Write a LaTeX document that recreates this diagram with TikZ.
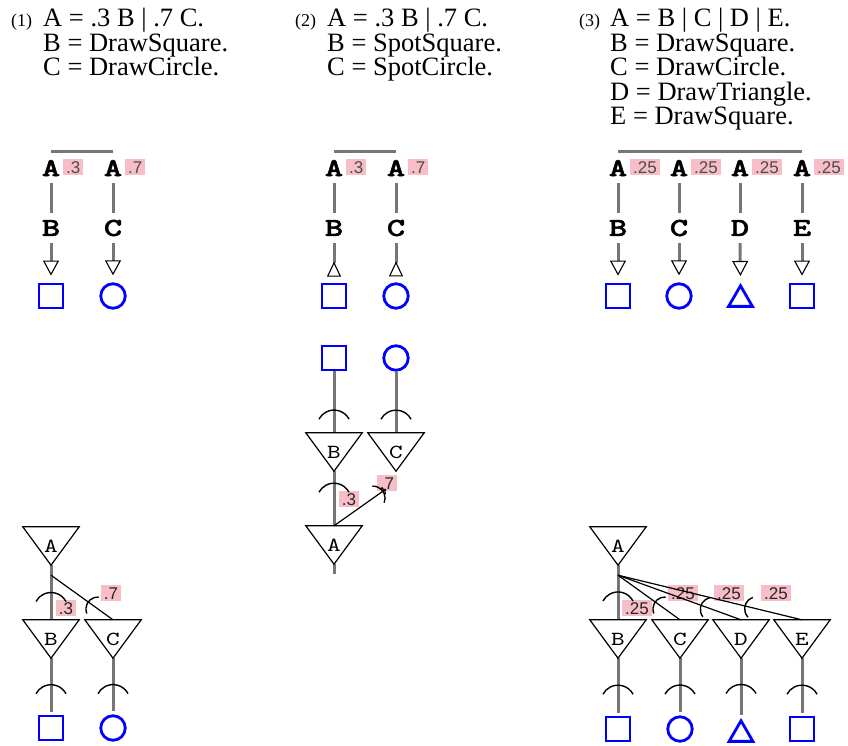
\documentclass[tikz,border=0pt]{standalone}
\usepackage{fontspec}
\setmainfont{Liberation Serif}
\newfontfamily\lsans{Liberation Sans}
\newfontfamily\courb{lmmonolt10-bold.otf}[FakeBold=1.6, FakeStretch=1.35]
\newfontfamily\cour{lmmono10-regular.otf}[FakeStretch=1.3]
\usetikzlibrary{arrows.meta,shapes.geometric,calc}
\definecolor{pinkc}{RGB}{247,190,200}
\definecolor{grayc}{RGB}{118,118,118}
\newcommand\sockarc[5]{% arc bulging toward #1 on segment #1--#2 at fraction #3, radius #4, half span #5
  \draw[sockline] let \p1=($(#1)-(#2)$), \n1={atan2(\y1,\x1)} in
    ($(#1)!#3!(#2)$) ++(\n1+180:#4) ++(\n1-#5:#4) arc[start angle=\n1-#5, end angle=\n1+#5, radius=#4];}
\tikzset{
  hdr/.style={anchor=base west, inner sep=0pt, font=\fontsize{26.5}{28}\selectfont},
  hnum/.style={anchor=base west, inner sep=0pt, font=\fontsize{18}{20}\selectfont},
  letter/.style={inner sep=0pt, minimum height=30pt, font=\courb\fontsize{26}{26}\selectfont},
  prob/.style={fill=pinkc, inner xsep=3pt, inner ysep=2pt, text=black!70, font=\lsans\fontsize{17}{17}\selectfont, anchor=west, text height=12.2pt, text depth=0pt},
  lprob/.style={prob, anchor=center, text=black!85},
  gl/.style={draw=grayc, line width=3pt},
  blk/.style={draw=black, line width=1.2pt},
  sockline/.style={draw=black, line width=1.4pt},
  sq/.style={rectangle, draw=blue, line width=2.8pt, minimum size=24pt, inner sep=0pt},
  ci/.style={circle, draw=blue, line width=2.8pt, minimum size=24.5pt, inner sep=0pt},
  tr/.style={regular polygon, regular polygon sides=3, draw=blue, line width=2.8pt, minimum size=27.5pt, inner sep=0pt},
  tri/.style={minimum width=56pt, minimum height=38pt, inner sep=0pt, font=\cour\fontsize{20}{20}\selectfont},
  opentip/.style={-{Triangle[open, color=black, line width=1.1pt, length=15pt, width=16pt]}, shorten >=7pt},
  rtip/.style={-{Triangle[open, reversed, color=black, line width=1.1pt, length=15pt, width=14pt]}, shorten >=6pt},
}
\begin{document}
\begin{tikzpicture}[x=1pt, y=-1pt]
\useasboundingbox (0,0) rectangle (848,746);
% ---------- headers
\node[hnum] (n1) at (11,27) {(1)};
\node[hdr] (h1a) at (43,27) {A = .3 B | .7 C.};
\node[hdr] (h1b) at (43,51.4) {B = DrawSquare.};
\node[hdr] (h1c) at (43,75.8) {C = DrawCircle.};
\node[hnum] (n2) at (295,27) {(2)};
\node[hdr] (h2a) at (327,27) {A = .3 B | .7 C.};
\node[hdr] (h2b) at (327,51.4) {B = SpotSquare.};
\node[hdr] (h2c) at (327,75.8) {C = SpotCircle.};
\node[hnum] (n3) at (579,27) {(3)};
\node[hdr] (h3a) at (610,27) {A = B | C | D | E.};
\node[hdr] (h3b) at (610,51.4) {B = DrawSquare.};
\node[hdr] (h3c) at (610,75.8) {C = DrawCircle.};
\node[hdr] (h3d) at (610,100.2) {D = DrawTriangle.};
\node[hdr] (h3e) at (610,124.6) {E = DrawSquare.};
% ---------- top panel 1
\node[letter] (tA11) at (51,168) {A};
\node[letter] (tA12) at (113,168) {A};
\node[prob] (p11) at (63,167) {.3};
\node[prob] (p12) at (125,167) {.7};
\node[letter] (tB11) at (51,228) {B};
\node[letter] (tB12) at (113,228) {C};
\node[sq] (S11) at (51,296) {};
\node[ci] (S12) at (113,296) {};
\draw[gl] ([yshift=1pt]tA11.north) -- ([yshift=1pt]tA12.north);
\draw[gl] (tA11.south) -- (tB11.north);
\draw[gl] (tA12.south) -- (tB12.north);
\draw[gl, opentip] (tB11.south) -- (S11.north);
\draw[gl, opentip] (tB12.south) -- (S12.north);
% ---------- top panel 2
\node[letter] (tA21) at (334,168) {A};
\node[letter] (tA22) at (396,168) {A};
\node[prob] (p21) at (346,167) {.3};
\node[prob] (p22) at (408,167) {.7};
\node[letter] (tB21) at (334,228) {B};
\node[letter] (tB22) at (396,228) {C};
\node[sq] (S21) at (334,296) {};
\node[ci] (S22) at (396,296) {};
\draw[gl] ([yshift=1pt]tA21.north) -- ([yshift=1pt]tA22.north);
\draw[gl] (tA21.south) -- (tB21.north);
\draw[gl] (tA22.south) -- (tB22.north);
\draw[gl, rtip] (tB21.south) -- (S21.north);
\draw[gl, rtip] (tB22.south) -- (S22.north);
% ---------- top panel 3
\foreach \i/\x/\l in {1/618/B,2/679/C,3/740/D,4/802/E}{
  \node[letter] (tA3\i) at (\x,168) {A};
  \node[prob] (p3\i) at (\x+12,167) {.25};
  \node[letter] (tB3\i) at (\x,228) {\l};
  \draw[gl] (tA3\i.south) -- (tB3\i.north);
}
\node[sq] (S31) at (618,296) {};
\node[ci] (S32) at (679,296) {};
\node[tr] (S33) at (740.5,299.5) {};
\node[sq] (S34) at (802,296) {};
\draw[gl] ([yshift=1pt]tA31.north) -- ([yshift=1pt]tA34.north);
\foreach \i in {1,2,3,4}{\draw[gl, opentip] (tB3\i.south) -- (S3\i.north);}
% ---------- lower panel 1
\node[lprob] (q11) at (66,608) {.3};
\node[lprob] (q12) at (111,593) {.7};
\node[tri] (LA1) at (51,546) {A};
\node[tri] (LB1) at (51,639) {B};
\node[tri] (LC1) at (113,639) {C};
\node[sq] (LS11) at (51,728) {};
\node[ci] (LS12) at (113,728) {};
\coordinate (J1) at ($(LA1.south)+(0,10)$);
\draw[gl] (LA1.south) -- (LB1.north);
\draw[blk] (J1) -- (LC1.north);
\draw[gl, shorten >=3pt] (LB1.south) -- (LS11.north);
\draw[gl, shorten >=3pt] (LC1.south) -- (LS12.north);
\sockarc{LA1.south}{LB1.north}{0.5}{17pt}{62}
\sockarc{J1}{LC1.north}{0.6}{12pt}{58}
\sockarc{LB1.south}{LS11.north}{0.47}{17pt}{62}
\sockarc{LC1.south}{LS12.north}{0.47}{17pt}{62}
% ---------- lower panel 2
\node[lprob] (q21) at (349,499) {.3};
\node[lprob] (q22) at (387,483) {.7};
\node[sq] (LS21) at (334,358) {};
\node[ci] (LS22) at (396,358) {};
\node[tri] (LB2) at (334,452) {B};
\node[tri] (LC2) at (396,452) {C};
\node[tri] (LA2) at (334,545) {A};
\coordinate (E2) at (334,574);
\coordinate (T2) at (386,489);
\draw[gl] (LS21.south) -- (LB2.north);
\draw[gl] (LS22.south) -- (LC2.north);
\draw[gl] (LB2.south) -- (LA2.north);
\draw[gl] (LA2.south) -- (E2);
\draw[blk, -{To[length=4pt]}] (LA2.north) -- (T2);
\sockarc{LS21.south}{LB2.north}{0.63}{17pt}{62}
\sockarc{LS22.south}{LC2.north}{0.63}{17pt}{62}
\sockarc{LB2.south}{LA2.north}{0.22}{17pt}{62}
\sockarc{T2}{LA2.north}{0.06}{12pt}{58}
% ---------- lower panel 3
\node[lprob] (q31) at (637,608) {.25};
\node[lprob] (q32) at (683,593) {.25};
\node[lprob] (q33) at (729,593) {.25};
\node[lprob] (q34) at (776,593) {.25};
\node[tri] (LA3) at (618,546) {A};
\node[tri] (LB3) at (618,639) {B};
\node[tri] (LC3) at (680,639) {C};
\node[tri] (LD3) at (741,639) {D};
\node[tri] (LE3) at (802,639) {E};
\node[sq] (LS31) at (618,729) {};
\node[ci] (LS32) at (680,729) {};
\node[tr] (LS33) at (741,734.5) {};
\node[sq] (LS34) at (802,729) {};
\coordinate (J3) at ($(LA3.south)+(0,10)$);
\draw[gl] (LA3.south) -- (LB3.north);
\draw[blk] (J3) -- (LC3.north);
\draw[blk] (J3) -- (LD3.north);
\draw[blk] (J3) -- (LE3.north);
\draw[gl, shorten >=3pt] (LB3.south) -- (LS31.north);
\draw[gl, shorten >=3pt] (LC3.south) -- (LS32.north);
\draw[gl, shorten >=3pt] (LD3.south) -- (LS33.north);
\draw[gl, shorten >=3pt] (LE3.south) -- (LS34.north);
\sockarc{LA3.south}{LB3.north}{0.49}{17pt}{62}
\sockarc{J3}{LC3.north}{0.6}{12pt}{58}
\sockarc{J3}{LD3.north}{0.675}{12pt}{58}
\sockarc{J3}{LE3.north}{0.69}{12pt}{58}
\sockarc{LB3.south}{LS31.north}{0.47}{17pt}{62}
\sockarc{LC3.south}{LS32.north}{0.47}{17pt}{62}
\sockarc{LD3.south}{LS33.north}{0.44}{17pt}{62}
\sockarc{LE3.south}{LS34.north}{0.47}{17pt}{62}
% ---------- triangle outlines
\foreach \t in {LA1,LB1,LC1,LB2,LC2,LA2,LA3,LB3,LC3,LD3,LE3}{
  \draw[blk] (\t.north west) -- (\t.north east) -- (\t.south) -- cycle;
}
\end{tikzpicture}
\end{document}
